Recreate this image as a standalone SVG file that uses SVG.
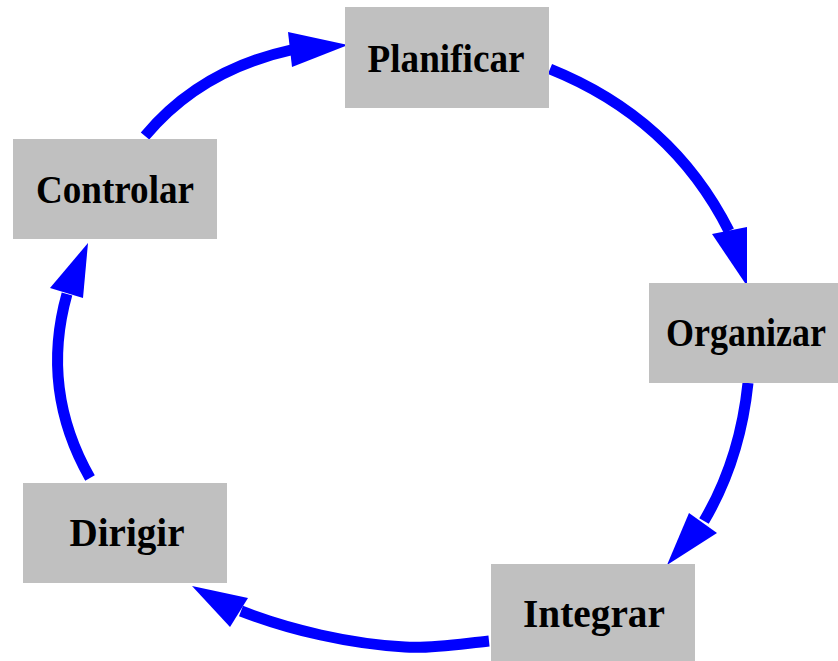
<svg xmlns="http://www.w3.org/2000/svg" width="838" height="661" viewBox="0 0 838 661">
<style>
.box{fill:#c0c0c0;}
.lbl{font-family:"Liberation Serif","Times New Roman",serif;font-weight:bold;font-size:41px;fill:#000;text-anchor:middle;}
.edge{fill:none;stroke:#0000ff;stroke-width:11;}
.head{fill:#0000ff;stroke:none;}
</style>
<rect width="838" height="661" fill="#ffffff"/>
<g id="edges">
<path class="edge" d="M145,136 Q200,70 291,50"/>
<polygon class="head" points="288,32 292,67 348,45"/>
<path class="edge" d="M550,69 Q672,118 729,231"/>
<polygon class="head" points="712,234 747,227 747,286"/>
<path class="edge" d="M748,383 Q740,460 704,521"/>
<polygon class="head" points="689,513 717,533 667,565"/>
<path class="edge" d="M489,641 C460,644 430,649 405,647 C350,644 290,630 241,611"/>
<polygon class="head" points="248,598 230,627 192,586"/>
<path class="edge" d="M90,478 Q40,390 67,294"/>
<polygon class="head" points="50,288 83,298 88,243"/>
</g>
<g id="planificar">
<rect class="box" x="345" y="7" width="204" height="101"/>
<text class="lbl" x="446" y="72" textLength="157" lengthAdjust="spacingAndGlyphs">Planificar</text>
</g>
<g id="organizar">
<rect class="box" x="649" y="283" width="189" height="100"/>
<text class="lbl" x="746" y="346" style="font-size:39px" textLength="160" lengthAdjust="spacingAndGlyphs">Organizar</text>
</g>
<g id="integrar">
<rect class="box" x="491" y="564" width="204" height="97"/>
<text class="lbl" x="594" y="627" textLength="142" lengthAdjust="spacingAndGlyphs">Integrar</text>
</g>
<g id="dirigir">
<rect class="box" x="23" y="483" width="204" height="100"/>
<text class="lbl" x="127" y="546" textLength="115" lengthAdjust="spacingAndGlyphs">Dirigir</text>
</g>
<g id="controlar">
<rect class="box" x="13" y="139" width="204" height="100"/>
<text class="lbl" x="115" y="203" textLength="158" lengthAdjust="spacingAndGlyphs">Controlar</text>
</g>
</svg>
